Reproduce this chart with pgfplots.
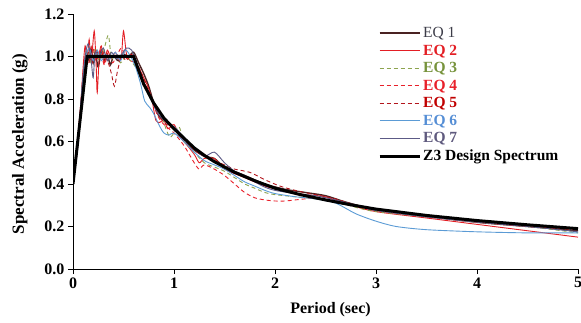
\documentclass[border=0pt]{standalone}
\usepackage{fontspec}
\setmainfont{Liberation Serif}
% coloured legend faces (colour carried by the font itself)
\newfontface\eqAfont[Color=3C3C48]{Liberation Serif}
\newfontface\eqBfont[Color=E31E24]{Liberation Serif Bold}
\newfontface\eqCfont[Color=77933C]{Liberation Serif Bold}
\newfontface\eqDfont[Color=E8202A]{Liberation Serif Bold}
\newfontface\eqEfont[Color=C00000]{Liberation Serif Bold}
\newfontface\eqFfont[Color=558ED5]{Liberation Serif Bold}
\newfontface\eqGfont[Color=5F5A7E]{Liberation Serif Bold}
\usepackage{pgfplots}
\pgfplotsset{compat=1.18}

\definecolor{eqone}{HTML}{4A2222}
\definecolor{eqtwo}{HTML}{E31E24}
\definecolor{eqthree}{HTML}{8DA44F}
\definecolor{eqfour}{HTML}{E8202A}
\definecolor{eqfive}{HTML}{B3151C}
\definecolor{eqsix}{HTML}{5B9BD5}
\definecolor{eqseven}{HTML}{5C5A86}

\begin{document}
\begin{tikzpicture}
\begin{axis}[
  at={(0,0)}, anchor=south west,
  scale only axis, width=505bp, height=255bp,
  xmin=0, xmax=5, ymin=0, ymax=1.2,
  xtick={0,1,2,3,4,5}, ytick={0,0.2,0.4,0.6,0.8,1.0,1.2},
  axis x line*=bottom, axis y line*=left,
  axis line style={-, draw=black, line width=0.9bp},
  tick align=outside, major tick length=5bp,
  tick style={draw=black, line width=0.9bp},
  /pgf/number format/assume math mode=true,
  yticklabel style={/pgf/number format/.cd, fixed, fixed zerofill, precision=1},
  ticklabel style={font=\fontsize{16bp}{18bp}\selectfont\bfseries},
  xlabel={Period (sec)}, ylabel={Spectral Acceleration (g)},
  every axis y label/.style={at={(axis description cs:-0.105,0.49)}, rotate=90, anchor=center,
    font=\fontsize{17bp}{19bp}\selectfont\bfseries},
  every axis x label/.style={at={(axis description cs:0.51,-0.16)}, anchor=center,
    font=\fontsize{16bp}{18bp}\selectfont\bfseries},
  legend style={draw=none, fill=none, at={(axis cs:3.02,1.148)}, anchor=north west,
    font=\fontsize{15.5bp}{17bp}\selectfont, row sep=1.8bp, inner sep=0pt,
    cells={anchor=west}},
  legend image code/.code={\draw[#1] (0bp,0bp) -- (40bp,0bp);},
]
% EQ 1
\addplot[draw=eqone, line width=1.4bp, smooth, tension=0.45] coordinates {
(0,0.42)(0.04,0.55)(0.08,0.76)(0.1,0.9)(0.12,0.97)(0.14,1.02)(0.16,0.98)(0.18,1.04)
(0.2,0.97)(0.22,1.02)(0.25,0.95)(0.28,1.03)(0.31,0.98)(0.34,1.01)(0.37,0.96)(0.4,1.0)
(0.45,0.98)(0.5,1.01)(0.55,1.0)(0.6,1.02)(0.65,0.97)(0.7,0.92)(0.75,0.86)(0.8,0.78)
(0.85,0.72)(0.9,0.7)(1.0,0.66)(1.1,0.6)(1.2,0.56)(1.3,0.53)(1.4,0.52)(1.5,0.48)
(1.7,0.44)(1.9,0.4)(2.1,0.375)(2.3,0.36)(2.5,0.345)(2.7,0.315)(3.0,0.28)(3.5,0.25)
(4.0,0.22)(4.5,0.2)(5.0,0.18)};
\addlegendentry{\eqAfont EQ 1}
% EQ 2
\addplot[draw=eqtwo, line width=0.9bp, smooth, tension=0.45] coordinates {
(0,0.42)(0.04,0.58)(0.08,0.8)(0.1,0.95)(0.12,1.05)(0.14,0.98)(0.16,1.08)(0.18,0.97)
(0.21,1.12)(0.23,0.95)(0.24,0.83)(0.26,1.0)(0.28,1.05)(0.31,0.97)(0.34,1.03)(0.38,0.99)
(0.42,1.02)(0.46,0.98)(0.48,1.0)(0.5,1.12)(0.53,1.01)(0.57,0.98)(0.62,0.97)(0.66,0.94)
(0.7,0.9)(0.74,0.86)(0.78,0.8)(0.82,0.7)(0.86,0.69)(0.9,0.7)(0.94,0.66)(1.0,0.68)
(1.05,0.63)(1.1,0.6)(1.2,0.54)(1.25,0.5)(1.3,0.52)(1.4,0.52)(1.5,0.47)(1.7,0.43)
(1.9,0.39)(2.1,0.365)(2.3,0.35)(2.5,0.34)(2.75,0.3)(3.0,0.27)(3.5,0.24)(4.0,0.21)
(4.5,0.18)(5.0,0.15)};
\addlegendentry{\eqBfont EQ 2}
% EQ 3
\addplot[draw=eqthree, line width=0.9bp, dash pattern=on 4bp off 3bp, smooth, tension=0.45] coordinates {
(0,0.42)(0.05,0.6)(0.09,0.85)(0.12,0.98)(0.15,1.03)(0.18,0.97)(0.22,1.04)(0.26,0.98)
(0.3,1.02)(0.35,1.1)(0.38,0.99)(0.42,1.01)(0.47,0.97)(0.52,1.0)(0.57,0.98)(0.62,0.95)
(0.67,0.9)(0.72,0.85)(0.78,0.79)(0.84,0.76)(0.88,0.72)(0.92,0.66)(0.96,0.62)(1.0,0.64)
(1.05,0.67)(1.1,0.6)(1.2,0.55)(1.3,0.5)(1.4,0.48)(1.5,0.46)(1.6,0.43)(1.7,0.4)
(1.8,0.38)(1.9,0.36)(2.0,0.35)(2.2,0.34)(2.4,0.33)(2.6,0.32)(2.8,0.29)(3.0,0.27)
(3.5,0.245)(4.0,0.22)(4.5,0.2)(5.0,0.17)};
\addlegendentry{\eqCfont EQ 3}
% EQ 4
\addplot[draw=eqfour, line width=0.9bp, dash pattern=on 4bp off 3bp, smooth, tension=0.45] coordinates {
(0,0.43)(0.05,0.62)(0.09,0.86)(0.12,1.0)(0.15,0.96)(0.19,1.05)(0.23,0.98)(0.27,1.03)
(0.31,0.96)(0.35,1.02)(0.39,0.97)(0.43,1.0)(0.48,1.04)(0.53,0.99)(0.58,1.01)(0.63,0.96)
(0.68,0.91)(0.73,0.85)(0.78,0.8)(0.83,0.73)(0.88,0.69)(0.95,0.66)(1.0,0.64)(1.1,0.58)
(1.2,0.5)(1.25,0.47)(1.3,0.49)(1.4,0.47)(1.5,0.44)(1.6,0.4)(1.7,0.36)(1.8,0.335)
(1.9,0.325)(2.0,0.32)(2.1,0.32)(2.2,0.325)(2.3,0.33)(2.5,0.335)(2.7,0.31)(3.0,0.275)
(3.5,0.245)(4.0,0.22)(4.5,0.2)(5.0,0.185)};
\addlegendentry{\eqDfont EQ 4}
% EQ 5
\addplot[draw=eqfive, line width=0.9bp, dash pattern=on 4bp off 3bp, smooth, tension=0.45] coordinates {
(0,0.42)(0.05,0.6)(0.09,0.84)(0.12,0.97)(0.15,1.02)(0.19,0.97)(0.23,1.03)(0.27,0.99)
(0.31,1.02)(0.35,0.97)(0.38,0.92)(0.41,0.86)(0.44,0.93)(0.48,1.0)(0.53,0.98)(0.58,1.01)
(0.63,0.97)(0.68,0.92)(0.73,0.86)(0.78,0.8)(0.83,0.74)(0.9,0.69)(1.0,0.66)(1.1,0.61)
(1.2,0.56)(1.3,0.53)(1.4,0.51)(1.5,0.49)(1.6,0.47)(1.75,0.455)(1.9,0.42)(2.05,0.39)
(2.2,0.37)(2.4,0.35)(2.6,0.33)(2.8,0.3)(3.0,0.275)(3.5,0.25)(4.0,0.225)(4.5,0.205)
(5.0,0.19)};
\addlegendentry{\eqEfont EQ 5}
% EQ 6
\addplot[draw=eqsix, line width=0.9bp, smooth, tension=0.45] coordinates {
(0,0.42)(0.05,0.6)(0.09,0.85)(0.12,0.98)(0.16,1.04)(0.2,0.98)(0.24,1.03)(0.28,0.98)
(0.32,1.01)(0.37,0.99)(0.42,1.02)(0.47,0.98)(0.52,1.03)(0.57,1.0)(0.62,0.95)(0.67,0.87)
(0.71,0.79)(0.76,0.76)(0.8,0.73)(0.86,0.67)(0.9,0.64)(0.95,0.63)(1.0,0.64)(1.1,0.6)
(1.2,0.55)(1.3,0.51)(1.4,0.49)(1.5,0.47)(1.6,0.44)(1.7,0.41)(1.8,0.39)(1.9,0.37)
(2.0,0.355)(2.2,0.34)(2.4,0.33)(2.6,0.31)(2.8,0.26)(3.0,0.225)(3.2,0.2)(3.5,0.185)
(4.0,0.175)(4.5,0.17)(5.0,0.17)};
\addlegendentry{\eqFfont EQ 6}
% EQ 7
\addplot[draw=eqseven, line width=0.9bp, smooth, tension=0.45] coordinates {
(0,0.42)(0.05,0.6)(0.09,0.86)(0.12,1.0)(0.15,1.06)(0.18,0.98)(0.2,0.9)(0.22,1.02)
(0.26,1.0)(0.3,1.04)(0.34,0.98)(0.38,1.02)(0.43,0.99)(0.48,1.01)(0.53,1.04)(0.58,1.03)
(0.63,0.97)(0.68,0.9)(0.73,0.84)(0.78,0.79)(0.83,0.74)(0.9,0.7)(1.0,0.67)(1.1,0.62)
(1.2,0.57)(1.3,0.53)(1.4,0.55)(1.5,0.5)(1.6,0.46)(1.7,0.44)(1.8,0.41)(1.9,0.385)
(2.0,0.37)(2.2,0.355)(2.4,0.345)(2.6,0.325)(2.8,0.3)(3.0,0.275)(3.5,0.245)(4.0,0.22)
(4.5,0.2)(5.0,0.175)};
\addlegendentry{\eqGfont EQ 7}
% Z3 design spectrum
\addplot[draw=black, line width=3bp, sharp plot] coordinates {
(0,0.4)(0.14,1.0)(0.6,1.0)(0.7,0.87)(0.8,0.78)(0.9,0.71)(1.0,0.66)(1.1,0.615)
(1.2,0.57)(1.3,0.535)(1.4,0.505)(1.5,0.48)(1.6,0.455)(1.8,0.415)(2.0,0.38)(2.25,0.35)
(2.5,0.325)(2.75,0.302)(3.0,0.282)(3.5,0.252)(4.0,0.228)(4.5,0.208)(5.0,0.19)};
\addlegendentry{\bfseries Z3 Design Spectrum}
\end{axis}
\pgfresetboundingbox
\path (-73bp,-54bp) rectangle (508bp,269bp);
\end{tikzpicture}
\end{document}
